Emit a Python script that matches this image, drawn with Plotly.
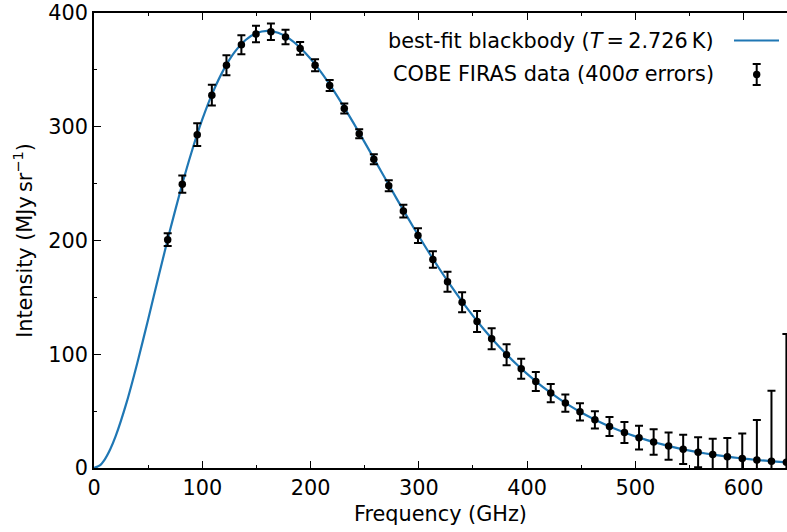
import plotly.graph_objects as go

# ---- data ----
# COBE FIRAS data points
freq_ghz = [68.05, 81.54, 95.33, 108.83, 122.32, 136.11, 149.60, 163.39, 176.88, 190.37,
            204.16, 217.65, 231.14, 244.93, 258.42, 272.21, 285.70, 299.19, 312.98, 326.47,
            339.96, 353.76, 367.25, 381.04, 394.53, 408.02, 421.81, 435.30, 448.79, 462.58,
            476.07, 489.86, 503.35, 516.84, 530.63, 544.12, 557.91, 571.40, 584.89, 598.68,
            612.17, 625.66, 639.45]
intensity = [200.7, 249.5, 293.0, 327.8, 354.1, 372.1, 381.5, 383.5, 378.9, 368.8,
             354.1, 336.3, 316.1, 293.9, 271.4, 248.2, 225.9, 204.3, 183.3, 163.8,
             145.8, 128.8, 113.6, 99.5, 87.2, 76.1, 65.9, 57.1, 49.4, 42.4,
             36.5, 31.2, 26.7, 22.8, 19.3, 16.4, 13.9, 11.8, 10.0, 8.4,
             7.0, 5.9, 5.0]
sigma_kjy = [14, 19, 25, 23, 22, 21, 18, 18, 16, 14, 13, 12, 11, 10, 11, 12, 14, 16, 18, 22,
             22, 23, 23, 23, 22, 21, 20, 19, 19, 19, 21, 23, 26, 28, 30, 32, 33, 35, 41, 55,
             88, 155, 282]
err_scale = 400  # 400 sigma errors
errors = [s * err_scale / 1000.0 for s in sigma_kjy]  # MJy/sr

# best-fit blackbody curve (T = 2.726 K), tabulated
curve_freq = [0, 5, 10, 15, 20, 30, 40, 50, 60, 70, 80, 90, 100, 110, 120, 130, 140, 150, 160,
              170, 180, 190, 200, 210, 220, 230, 240, 250, 260, 270, 280, 290, 300, 310, 320,
              330, 340, 350, 360, 370, 380, 390, 400, 410, 420, 430, 440, 450, 460, 470, 480,
              490, 500, 510, 520, 530, 540, 550, 560, 570, 580, 590, 600, 610, 620, 630, 640]
curve_int = [0.0, 2.004, 7.662, 16.466, 27.957, 57.23, 92.35, 130.62, 169.86, 208.27, 244.46,
             277.39, 306.39, 330.85, 350.66, 365.77, 376.27, 382.37, 384.37, 382.68, 377.75,
             369.93, 359.72, 347.51, 333.70, 318.65, 302.74, 286.27, 269.54, 252.68, 235.97,
             219.63, 203.70, 188.34, 173.61, 159.57, 146.29, 133.77, 122.03, 111.07, 100.88,
             91.44, 82.72, 74.69, 67.32, 60.58, 54.43, 48.82, 43.73, 39.12, 34.94, 31.17,
             27.77, 24.72, 21.97, 19.51, 17.30, 15.33, 13.57, 12.00, 10.60, 9.359, 8.255,
             7.274, 6.405, 5.636, 4.954]

x_ticks = [0, 100, 200, 300, 400, 500, 600]
y_ticks = [0, 100, 200, 300, 400]

FONT = "DejaVu Sans"
FS = 20.8
BLUE = "#1f77b4"

fig = go.Figure()
fig.add_trace(go.Scatter(x=curve_freq, y=curve_int, mode="lines",
                         line=dict(color=BLUE, width=2.2, shape="spline", smoothing=0.6),
                         showlegend=False, hoverinfo="skip"))
fig.add_trace(go.Scatter(x=freq_ghz, y=intensity, mode="markers",
                         marker=dict(color="black", size=7.5),
                         error_y=dict(type="data", array=errors, visible=True,
                                      color="black", thickness=2, width=4),
                         showlegend=False))

axis_common = dict(
    showgrid=False, zeroline=False, showline=True, linecolor="black", linewidth=1.6,
    ticks="inside", ticklen=7, tickwidth=1.4, tickcolor="black",
    tickfont=dict(family=FONT, size=FS, color="black"),
)
fig.update_xaxes(range=[0, 640], tickvals=x_ticks, mirror="ticks",
                 minor=dict(dtick=50, ticks="inside", ticklen=3.5, tickwidth=1.2, tickcolor="black"),
                 title=dict(text="Frequency (GHz)", font=dict(family=FONT, size=FS, color="black"),
                            standoff=8),
                 **axis_common)
fig.update_yaxes(range=[0, 400], tickvals=y_ticks, mirror=False,
                 minor=dict(dtick=50, ticks="inside", ticklen=3.5, tickwidth=1.2, tickcolor="black"),
                 title=dict(text="Intensity (MJy\u2009sr<sup>\u22121</sup>)",
                            font=dict(family=FONT, size=FS, color="black"), standoff=10),
                 **axis_common)

# legend (matplotlib style: text right-aligned, handle on the right)
W, H = 693.0, 455.0
def px(x):
    return (x - 94) / W
def py(y):
    return (468 - y) / H

fig.add_annotation(x=px(716), y=py(41), xref="paper", yref="paper", xanchor="right",
                   yanchor="middle", showarrow=False,
                   text="best-fit blackbody (<i>T</i>\u2009=\u20092.726\u2009K)",
                   font=dict(family=FONT, size=FS, color="black"))
fig.add_annotation(x=px(716), y=py(74), xref="paper", yref="paper", xanchor="right",
                   yanchor="middle", showarrow=False,
                   text="COBE FIRAS data (400<i>σ</i> errors)",
                   font=dict(family=FONT, size=FS, color="black"))
shapes = [
    dict(type="line", xref="paper", yref="paper", x0=px(734), x1=px(779), y0=py(40.5), y1=py(40.5),
         line=dict(color=BLUE, width=2.2)),
    dict(type="line", xref="paper", yref="paper", x0=px(756.7), x1=px(756.7), y0=py(64), y1=py(85),
         line=dict(color="black", width=2)),
    dict(type="line", xref="paper", yref="paper", x0=px(752.7), x1=px(760.7), y0=py(64), y1=py(64),
         line=dict(color="black", width=2)),
    dict(type="line", xref="paper", yref="paper", x0=px(752.7), x1=px(760.7), y0=py(85), y1=py(85),
         line=dict(color="black", width=2)),
    dict(type="circle", xref="paper", yref="paper", x0=px(753.0), x1=px(760.4), y0=py(70.8), y1=py(78.2),
         fillcolor="black", line=dict(color="black", width=0)),
]
fig.update_layout(
    width=787, height=532,
    margin=dict(l=94, r=0, t=13, b=64),
    paper_bgcolor="white", plot_bgcolor="white",
    showlegend=False, shapes=shapes,
    font=dict(family=FONT, size=FS, color="black"),
)

fig.write_html("out.html")
